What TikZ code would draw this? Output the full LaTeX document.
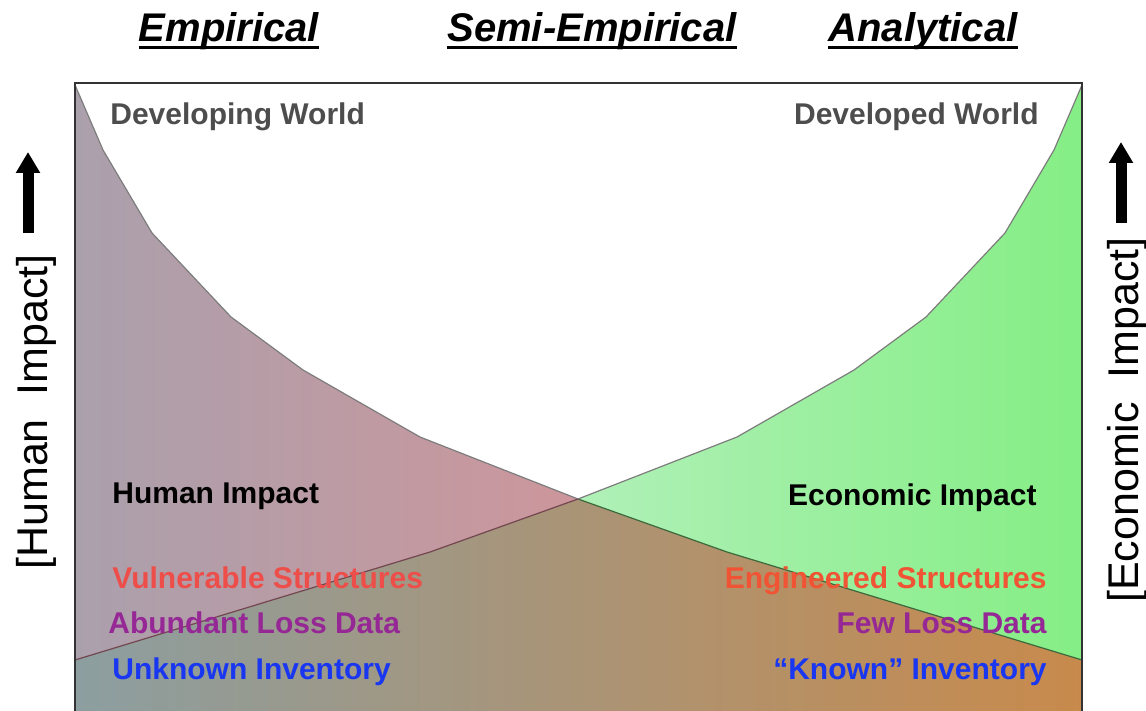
\documentclass[tikz,border=0pt]{standalone}
\usepackage{fontspec}
\setmainfont{Liberation Sans}
\usetikzlibrary{arrows.meta}

\definecolor{humanL}{RGB}{170,160,172}
\definecolor{humanR}{RGB}{240,140,140}
\definecolor{econL}{RGB}{219,242,235}
\definecolor{econR}{RGB}{133,238,133}
\definecolor{bothL}{RGB}{140,158,160}
\definecolor{bothR}{RGB}{200,138,76}
\definecolor{worldgray}{RGB}{77,77,77}
\definecolor{curvegray}{RGB}{125,125,125}
\definecolor{redgreen}{RGB}{60,105,60}
\definecolor{greenred}{RGB}{115,70,80}
\definecolor{structred}{RGB}{238,78,74}
\definecolor{structorange}{RGB}{240,84,52}
\definecolor{losspurple}{RGB}{150,40,150}
\definecolor{invblue}{RGB}{25,55,240}

\begin{document}
\begin{tikzpicture}[x=0.5pt,y=-0.5pt,
  headline/.style={font=\fontsize{20}{24}\selectfont\bfseries\itshape,anchor=base,inner sep=0pt},
  world/.style={font=\fontsize{15}{18}\selectfont\bfseries,text=worldgray,inner sep=0pt},
  infotext/.style={font=\fontsize{15}{18}\selectfont\bfseries,inner sep=0pt},
  axislabel/.style={font=\fontsize{21.5}{26}\selectfont,rotate=90,anchor=base,inner sep=0pt},
  curveline/.style={draw=curvegray,line width=0.6pt},
  impactarrow/.style={line width=5.5pt,-{Triangle[width=11.5pt,length=10.5pt]}}]
  \useasboundingbox (0,0) rectangle (1146,711);
  \clip (0,0) rectangle (1146,711);
  % human impact curve
  \coordinate (r0) at (75,85);
  \coordinate (r1) at (103,150);
  \coordinate (r2) at (152,233);
  \coordinate (r3) at (231,317);
  \coordinate (r4) at (303,370);
  \coordinate (r5) at (420,437);
  \coordinate (r6) at (578,499);
  \coordinate (r7) at (727,552);
  \coordinate (r8) at (1082,660);
  % economic impact curve
  \coordinate (g0) at (75,660);
  \coordinate (g1) at (430,552);
  \coordinate (g2) at (578,499);
  \coordinate (g3) at (737,437);
  \coordinate (g4) at (854,370);
  \coordinate (g5) at (926,317);
  \coordinate (g6) at (1005,233);
  \coordinate (g7) at (1054,150);
  \coordinate (g8) at (1082,85);
  \coordinate (bl) at (75,720);
  \coordinate (br) at (1082,720);

  \shade[left color=humanL,right color=humanR]
    (r0) -- (r1) -- (r2) -- (r3) -- (r4) -- (r5) -- (r6) -- (r7) -- (r8) -- (br) -- (bl) -- cycle;
  \shade[left color=econL,right color=econR]
    (g0) -- (g1) -- (g2) -- (g3) -- (g4) -- (g5) -- (g6) -- (g7) -- (g8) -- (br) -- (bl) -- cycle;
  \begin{scope}
    \clip (r0) -- (r1) -- (r2) -- (r3) -- (r4) -- (r5) -- (r6) -- (r7) -- (r8) -- (br) -- (bl) -- cycle;
    \shade[left color=bothL,right color=bothR]
      (g0) -- (g1) -- (g2) -- (g3) -- (g4) -- (g5) -- (g6) -- (g7) -- (g8) -- (br) -- (bl) -- cycle;
  \end{scope}
  \draw[curveline] (r0) -- (r1) -- (r2) -- (r3) -- (r4) -- (r5) -- (r6);
  \draw[curveline,draw=redgreen] (r6) -- (r7) -- (r8);
  \draw[curveline,draw=greenred] (g0) -- (g1) -- (g2);
  \draw[curveline] (g2) -- (g3) -- (g4) -- (g5) -- (g6) -- (g7) -- (g8);
  \draw[line width=0.6pt,black!80] (bl) -- (75,83) -- (1082,83) -- (br);

  \node[headline] (emp)  at (229,42) {Empirical};
  \node[headline] (semi) at (592,42) {Semi-Empirical};
  \node[headline] (ana)  at (923,42) {Analytical};
  \foreach \t in {emp,semi,ana}
    \draw[line width=1.5pt] ([yshift=-3pt]\t.base west) -- ([yshift=-3pt]\t.base east);

  \node[world,anchor=base west] (dvg) at (110,125) {Developing World};
  \node[world,anchor=base east] (dvd) at (1039,125) {Developed World};

  \node[infotext,anchor=base west] (hum) at (112,503) {Human Impact};
  \node[infotext,anchor=base east] (eco) at (1037,505) {Economic Impact};

  \node[infotext,anchor=base west,text=structred]  (vul) at (112,588) {Vulnerable Structures};
  \node[infotext,anchor=base west,text=losspurple] (abu) at (108,633) {Abundant Loss Data};
  \node[infotext,anchor=base west,text=invblue]    (unk) at (112,679) {Unknown Inventory};
  \node[infotext,anchor=base east,text=structorange] (eng) at (1047,588) {Engineered Structures};
  \node[infotext,anchor=base east,text=losspurple]   (few) at (1047,633) {Few Loss Data};
  \node[infotext,anchor=base east,text=invblue]      (kno) at (1047,679) {“Known” Inventory};

  \node[axislabel] (hax) at (47,412) {[Human\ \ Impact]};
  \node[axislabel] (eax) at (1138,420) {[Economic\ \ Impact]};
  \coordinate (ha0) at (28,233);
  \coordinate (ha1) at (28,152);
  \coordinate (ea0) at (1121,223);
  \coordinate (ea1) at (1121,142);
  \draw[impactarrow] (ha0) -- (ha1);
  \draw[impactarrow] (ea0) -- (ea1);
\end{tikzpicture}
\end{document}
